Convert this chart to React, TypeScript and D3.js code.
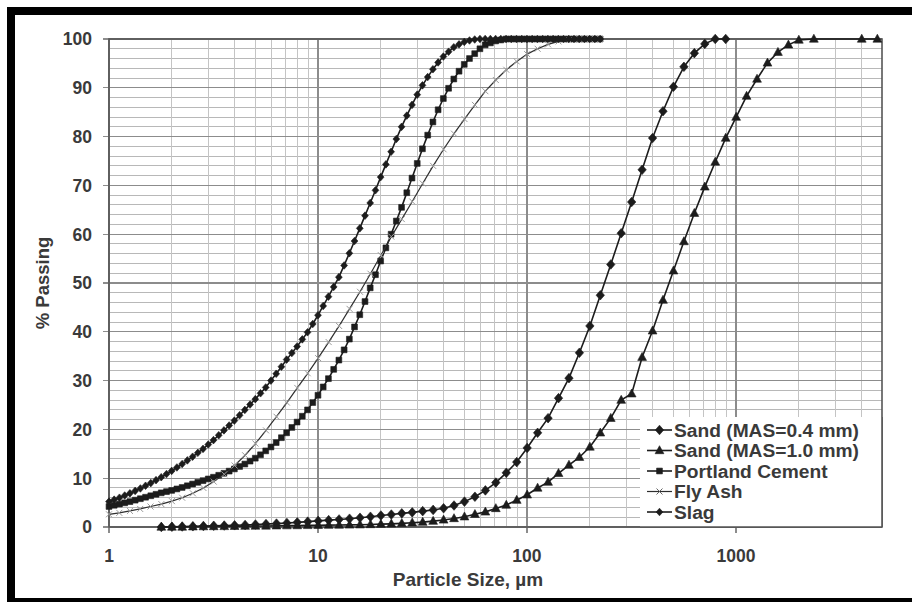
import React from "react";
import * as d3 from "d3";

// Particle-size bins (µm) for the cement and slag scans
const FINE_SIZES = [
  1.0, 1.059, 1.122, 1.189, 1.259, 1.334, 1.413, 1.496, 1.585, 1.679, 1.778, 1.884, 1.995, 2.113,
  2.239, 2.371, 2.512, 2.661, 2.818, 2.985, 3.162, 3.35, 3.548, 3.758, 3.981, 4.217, 4.467, 4.732,
  5.012, 5.309, 5.623, 5.957, 6.31, 6.683, 7.079, 7.499, 7.943, 8.414, 8.913, 9.441, 10.0, 10.59,
  11.22, 11.89, 12.59, 13.34, 14.13, 14.96, 15.85, 16.79, 17.78, 18.84, 19.95, 21.13, 22.39,
  23.71, 25.12, 26.61, 28.18, 29.85, 31.62, 33.5, 35.48, 37.58, 39.81, 42.17, 44.67, 47.32, 50.12,
  53.09, 56.23, 59.57, 63.1, 66.83, 70.79, 74.99, 79.43, 84.14, 89.13, 94.41, 100.0, 105.9, 112.2,
  118.9, 125.9, 133.4, 141.3, 149.6, 158.5, 167.9, 177.8, 188.4, 199.5, 211.3, 223.9,
];

// Particle-size bins (µm) for the fly ash scan
const FLY_ASH_SIZES = [
  1.0, 1.12, 1.26, 1.41, 1.58, 1.78, 2.0, 2.24, 2.52, 2.83, 3.17, 3.56, 3.99, 4.48, 5.02, 5.64,
  6.33, 7.1, 7.96, 8.93, 10.02, 11.25, 12.62, 14.16, 15.89, 17.83, 20.0, 22.44, 25.18, 28.25,
  31.7, 35.57, 39.91, 44.77, 50.24, 56.37, 63.25, 70.96, 79.62, 89.34, 100.24, 112.47, 126.19,
  141.59, 158.87, 178.25, 200.0, 224.4,
];

// Particle-size bins (µm) for the sands
const SAND_04_SIZES = [
  1.78, 2.0, 2.24, 2.52, 2.83, 3.17, 3.56, 3.99, 4.48, 5.02, 5.64, 6.33, 7.1, 7.96, 8.93, 10.02,
  11.25, 12.62, 14.16, 15.89, 17.83, 20.0, 22.44, 25.18, 28.25, 31.7, 35.57, 39.91, 44.77, 50.24,
  56.37, 63.25, 70.96, 79.62, 89.34, 100.24, 112.47, 126.19, 141.59, 158.87, 178.25, 200.0, 224.4,
  251.8, 282.5, 317.0, 355.7, 399.1, 447.7, 502.4, 563.7, 632.5, 709.6, 796.2, 893.4,
];
const SAND_10_SIZES = [
  1.78, 2.0, 2.24, 2.52, 2.83, 3.17, 3.56, 3.99, 4.48, 5.02, 5.64, 6.33, 7.1, 7.96, 8.93, 10.02,
  11.25, 12.62, 14.16, 15.89, 17.83, 20.0, 22.44, 25.18, 28.25, 31.7, 35.57, 39.91, 44.77, 50.24,
  56.37, 63.25, 70.96, 79.62, 89.34, 100.24, 112.47, 126.19, 141.59, 158.87, 178.25, 200.0, 224.4,
  251.8, 282.5, 317.0, 355.7, 399.1, 447.7, 502.4, 563.7, 632.5, 709.6, 796.2, 893.4, 1002.4,
  1124.7, 1261.9, 1415.9, 1588.7, 1782.5, 2000, 2360, 4000, 4750,
];

// Cumulative % passing
const SAND_04 = [
  0.0, 0.05, 0.1, 0.15, 0.2, 0.25, 0.3, 0.35, 0.42, 0.5, 0.6, 0.7, 0.82, 0.95, 1.1, 1.25, 1.4,
  1.55, 1.7, 1.9, 2.1, 2.35, 2.55, 2.8, 3.0, 3.25, 3.5, 3.85, 4.4, 5.2, 6.2, 7.5, 9.1, 11.1, 13.3,
  16.2, 19.3, 22.3, 26.4, 30.5, 35.7, 41.2, 47.5, 53.8, 60.2, 66.6, 73.2, 79.7, 85.2, 90.2, 94.3,
  97.1, 99.0, 100, 100,
];
const SAND_10 = [
  0.0, 0.0, 0.0, 0.05, 0.08, 0.1, 0.12, 0.15, 0.18, 0.2, 0.22, 0.25, 0.28, 0.3, 0.33, 0.35, 0.38,
  0.4, 0.43, 0.47, 0.52, 0.58, 0.65, 0.75, 0.88, 1.0, 1.2, 1.45, 1.75, 2.1, 2.6, 3.1, 3.8, 4.5,
  5.5, 6.6, 8.0, 9.2, 11.0, 12.7, 14.3, 16.4, 19.3, 22.3, 26.0, 27.3, 34.8, 40.2, 46.5, 52.5,
  58.5, 64.3, 69.7, 74.8, 79.7, 84.0, 88.3, 91.8, 95.1, 97.3, 98.8, 99.8, 100, 100, 100,
];
const CEMENT = [
  4.2, 4.45, 4.7, 4.95, 5.2, 5.5, 5.8, 6.1, 6.4, 6.7, 7.0, 7.25, 7.5, 7.8, 8.1, 8.45, 8.8, 9.15,
  9.5, 9.85, 10.2, 10.6, 11.0, 11.45, 11.9, 12.4, 12.9, 13.5, 14.1, 14.8, 15.6, 16.4, 17.3, 18.3,
  19.3, 20.4, 21.5, 22.7, 24.0, 25.5, 27.0, 28.7, 30.4, 32.3, 34.2, 36.3, 38.5, 41.0, 43.5, 46.2,
  49.0, 51.7, 54.5, 57.2, 60.0, 62.7, 65.5, 68.5, 71.5, 74.5, 77.5, 80.3, 83.0, 85.5, 87.8, 89.9,
  91.8, 93.4, 94.8, 96.0, 97.0, 98.0, 98.8, 99.2, 99.6, 99.8, 100, 100, 100, 100, 100, 100, 100,
  100, 100, 100, 100, 100, 100, 100, 100, 100, 100, 100, 100,
];
const FLY_ASH = [
  2.6, 2.9, 3.3, 3.7, 4.2, 4.7, 5.3, 6.0, 6.9, 8.0, 9.3, 10.8, 12.6, 14.7, 17.1, 19.8, 22.6, 25.5,
  28.5, 31.5, 34.6, 37.9, 41.2, 44.7, 48.2, 51.9, 55.7, 59.5, 63.1, 66.7, 70.4, 74.0, 77.4, 80.6,
  83.6, 86.5, 89.3, 91.6, 93.7, 95.4, 96.9, 98.0, 98.9, 99.5, 99.8, 100, 100, 100,
];
const SLAG = [
  5.2, 5.6, 6.0, 6.45, 6.9, 7.4, 7.9, 8.45, 9.0, 9.6, 10.2, 10.85, 11.5, 12.2, 12.9, 13.65, 14.4,
  15.2, 16.0, 16.9, 17.8, 18.8, 19.8, 20.8, 21.8, 22.9, 24.0, 25.1, 26.2, 27.4, 28.6, 30.0, 31.4,
  32.85, 34.3, 35.65, 37.0, 38.45, 39.9, 41.6, 43.4, 45.3, 47.2, 49.2, 51.2, 53.6, 56.1, 58.6,
  61.2, 63.8, 66.4, 69.0, 71.7, 74.3, 76.9, 79.5, 82.0, 84.3, 86.5, 88.6, 90.5, 92.2, 93.8, 95.2,
  96.4, 97.4, 98.3, 98.9, 99.4, 99.7, 99.9, 100, 100, 100, 100, 100, 100, 100, 100, 100, 100, 100,
  100, 100, 100, 100, 100, 100, 100, 100, 100, 100, 100, 100, 100,
];

const X_TICKS = [1, 10, 100, 1000];
const Y_TICKS = [0, 10, 20, 30, 40, 50, 60, 70, 80, 90, 100];
const LEGEND_LABELS = [
  "Sand (MAS=0.4 mm)",
  "Sand (MAS=1.0 mm)",
  "Portland Cement",
  "Fly Ash",
  "Slag",
];

type Marker = "diamond" | "triangle" | "square" | "cross" | "smallDiamond";

const W = 912;
const H = 602;
const M = { left: 109, right: 882, top: 39, bottom: 527 };
const FONT = "'Liberation Sans', Arial, Helvetica, sans-serif";
const INK = "#1c1c1c";
const TEXT = "#3a3a3a";

function markerPath(kind: Marker): string {
  switch (kind) {
    case "diamond":
      return "M0,-4.8L4.2,0L0,4.8L-4.2,0Z";
    case "smallDiamond":
      return "M0,-3.8L3.4,0L0,3.8L-3.4,0Z";
    case "triangle":
      return "M0,-4.8L4.4,3.2L-4.4,3.2Z";
    case "square":
      return "M-2.9,-2.9L2.9,-2.9L2.9,2.9L-2.9,2.9Z";
    case "cross":
      return "M-3,-3L3,3M-3,3L3,-3";
  }
}

export default function App() {
  const x = d3.scaleLog().domain([1, 5000]).range([M.left, M.right]);
  const y = d3.scaleLinear().domain([0, 100]).range([M.bottom, M.top]);

  const series = [
    { name: LEGEND_LABELS[0], sizes: SAND_04_SIZES, values: SAND_04, marker: "diamond" as Marker, width: 1.6, color: INK, mColor: INK },
    { name: LEGEND_LABELS[1], sizes: SAND_10_SIZES, values: SAND_10, marker: "triangle" as Marker, width: 1.6, color: INK, mColor: INK },
    { name: LEGEND_LABELS[2], sizes: FINE_SIZES, values: CEMENT, marker: "square" as Marker, width: 1.6, color: INK, mColor: INK },
    { name: LEGEND_LABELS[3], sizes: FLY_ASH_SIZES, values: FLY_ASH, marker: "cross" as Marker, width: 1.2, color: "#2e2e2e", mColor: "#9a9a9a" },
    { name: LEGEND_LABELS[4], sizes: FINE_SIZES, values: SLAG, marker: "smallDiamond" as Marker, width: 1.6, color: INK, mColor: INK },
  ];

  const line = d3
    .line<[number, number]>()
    .x((d) => x(d[0]))
    .y((d) => y(d[1]));

  // minor grid: 2..9 within each decade
  const minorX: number[] = [];
  for (let dec = 1; dec <= 1000; dec *= 10) {
    for (let k = 2; k <= 9; k++) {
      const v = dec * k;
      if (v < 5000) minorX.push(v);
    }
  }
  const minorY = d3.range(0, 101, 2).filter((v) => v % 10 !== 0);

  const legend = { x0: 640, y0: 417, x1: M.right, y1: M.bottom, rowY: [430, 450.5, 471, 491.5, 512] };

  return (
    <svg
      width={W}
      height={H}
      viewBox={`0 0 ${W} ${H}`}
      style={{ position: "absolute", left: 0, top: 0, background: "#fff" }}
      fontFamily={FONT}
    >
      <rect x={0} y={0} width={W} height={H} fill="#fff" />

      {/* grid */}
      <g shapeRendering="crispEdges">
        {minorY.map((v) => (
          <line key={`hy${v}`} x1={M.left} x2={M.right} y1={y(v)} y2={y(v)} stroke="#b8b8b8" strokeWidth={1} />
        ))}
        {minorX.map((v) => (
          <line key={`vx${v}`} x1={x(v)} x2={x(v)} y1={M.top} y2={M.bottom} stroke="#c4c4c4" strokeWidth={1} />
        ))}
        {Y_TICKS.map((v) => (
          <line key={`HY${v}`} x1={M.left - 6} x2={M.right} y1={y(v)} y2={y(v)} stroke="#8c8c8c" strokeWidth={1.3} />
        ))}
        {X_TICKS.map((v) => (
          <line key={`VX${v}`} x1={x(v)} x2={x(v)} y1={M.top} y2={M.bottom + 6} stroke="#8c8c8c" strokeWidth={1.3} />
        ))}
      </g>

      {/* plot frame */}
      <rect
        x={M.left}
        y={M.top}
        width={M.right - M.left}
        height={M.bottom - M.top}
        fill="none"
        stroke="#555"
        strokeWidth={1.6}
      />

      {/* series */}
      {series.map((s) => {
        const pts = s.sizes.map((d, i) => [d, s.values[i]] as [number, number]);
        return (
          <g key={s.name}>
            <path d={line(pts) ?? ""} fill="none" stroke={s.color} strokeWidth={s.width} />
            {pts.map((p, i) => (
              <path
                key={i}
                d={markerPath(s.marker)}
                transform={`translate(${x(p[0])},${y(p[1])})`}
                fill={s.marker === "cross" ? "none" : s.mColor}
                stroke={s.mColor}
                strokeWidth={s.marker === "cross" ? 1 : 0.6}
              />
            ))}
          </g>
        );
      })}

      {/* legend */}
      <rect x={legend.x0} y={legend.y0} width={legend.x1 - legend.x0} height={legend.y1 - legend.y0} fill="#fff" />
      <line x1={legend.x1} x2={legend.x1} y1={legend.y0} y2={legend.y1} stroke="#555" strokeWidth={1.6} />
      <line x1={legend.x0} x2={legend.x1} y1={legend.y1} y2={legend.y1} stroke="#555" strokeWidth={1.6} />
      {series.map((s, i) => {
        const cy = legend.rowY[i];
        return (
          <g key={`lg${i}`}>
            <line x1={647} x2={672} y1={cy} y2={cy} stroke={s.color} strokeWidth={s.width} />
            <path
              d={markerPath(s.marker)}
              transform={`translate(659.5,${cy})`}
              fill={s.marker === "cross" ? "none" : s.mColor}
              stroke={s.marker === "cross" ? "#666" : s.mColor}
              strokeWidth={s.marker === "cross" ? 1 : 0.6}
            />
            <text x={674} y={cy} dy="0.36em" fontSize={19.2} fontWeight="bold" fill={TEXT}>
              {s.name}
            </text>
          </g>
        );
      })}

      {/* tick labels */}
      {Y_TICKS.map((v) => (
        <text key={`yl${v}`} x={92} y={y(v)} dy="0.36em" textAnchor="end" fontSize={17.5} fontWeight="bold" fill={TEXT}>
          {v}
        </text>
      ))}
      {X_TICKS.map((v) => (
        <text key={`xl${v}`} x={x(v)} y={562} textAnchor="middle" fontSize={17.5} fontWeight="bold" fill={TEXT}>
          {v}
        </text>
      ))}

      {/* axis titles */}
      <text x={468} y={586} textAnchor="middle" fontSize={19} fontWeight="bold" fill={TEXT}>
        Particle Size, µm
      </text>
      <text
        transform={`translate(42,${(M.top + M.bottom) / 2}) rotate(-90)`}
        dy="0.36em"
        textAnchor="middle"
        fontSize={18.5}
        fontWeight="bold"
        fill={TEXT}
      >
        % Passing
      </text>

      {/* outer black frame */}
      <rect x={11} y={11} width={1000} height={591} fill="none" stroke="#000" strokeWidth={8} />
    </svg>
  );
}
